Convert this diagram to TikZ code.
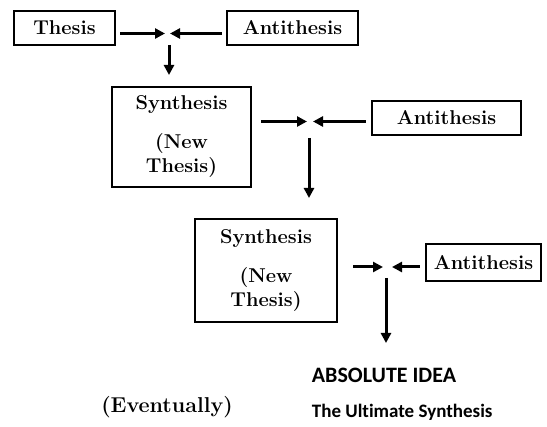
\documentclass[tikz,border=0pt]{standalone}
\usepackage{fontspec}
\newfontfamily\carl[Ligatures=NoCommon]{Carlito}
\usetikzlibrary{arrows.meta}
\begin{document}
\begin{tikzpicture}[x=1pt,y=-1pt,
  box/.style={draw, line width=2.2pt, inner sep=0pt, align=center,
    font=\fontsize{20}{24}\selectfont\bfseries},
  arr/.style={line width=3pt, -{Triangle[length=10pt,width=10pt]}},
  lbl/.style={inner sep=0pt}]
\useasboundingbox (0,0) rectangle (547,427);
% boxes
\node[box, minimum width=101pt, minimum height=34pt] (thesis) at (64.5,28) {Thesis};
\node[box, minimum width=131pt, minimum height=34pt] (anti1) at (292.5,28) {Antithesis};
\node[box, minimum width=139pt, minimum height=100pt] (synth1) at (181.5,137) {Synthesis\\[15pt](New\\Thesis)};
\node[box, minimum width=149pt, minimum height=34pt] (anti2) at (446.5,118) {Antithesis};
\node[box, minimum width=142pt, minimum height=103pt] (synth2) at (266,270.5) {Synthesis\\[15pt](New\\Thesis)};
\node[box, minimum width=115pt, minimum height=37pt] (anti3) at (483.5,262.5) {Antithesis};
% texts
\node[lbl, font=\carl\bfseries\fontsize{22}{26}\selectfont] (absolute) at (384,375) {ABSOLUTE IDEA};
\node[lbl, anchor=west, font=\carl\bfseries\fontsize{19}{22}\selectfont] (ultimate) at (absolute.west |- 0,412) {The Ultimate Synthesis};
\node[lbl, font=\fontsize{21.5}{25}\selectfont\bfseries] (eventually) at (167,407) {(Eventually)};
% junctions and free ends
\coordinate (j1) at (169,33.5);
\coordinate (j2) at (310,121.5);
\coordinate (j3) at (387,267);
\coordinate (e1) at (169,75);
\coordinate (e2) at (309,198);
\coordinate (e3) at (386,343);
% row 1
\draw[arr, shorten <=4pt, shorten >=4pt] (thesis.east |- j1) -- (j1);
\draw[arr, shorten <=4pt, shorten >=1pt] (anti1.west |- j1) -- (j1);
\draw[arr, shorten <=11.5pt] (j1) -- (e1);
% row 2
\draw[arr, shorten <=9pt, shorten >=3pt] (synth1.east |- j2) -- (j2);
\draw[arr, shorten <=5pt, shorten >=3pt] (anti2.west |- j2) -- (j2);
\draw[arr, shorten <=16.5pt] (j2 -| e2) -- (e2);
% row 3
\draw[arr, shorten <=15pt, shorten >=4pt] (synth2.east |- j3) -- (j3);
\draw[arr, shorten <=5pt, shorten >=5pt] (anti3.west |- j3) -- (j3);
\draw[arr, shorten <=11pt] (j3 -| e3) -- (e3);
\end{tikzpicture}
\end{document}
